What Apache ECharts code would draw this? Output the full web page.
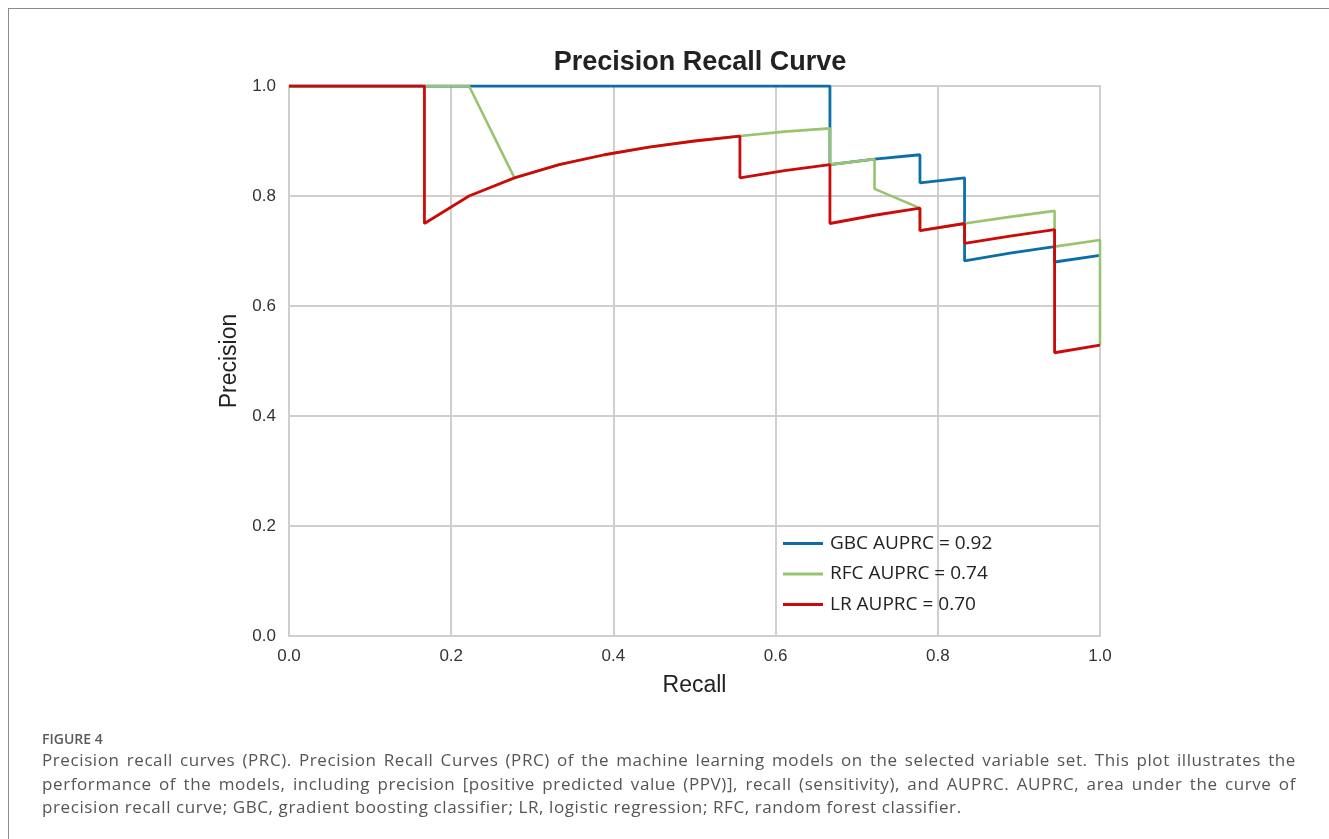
<!DOCTYPE html>
<html>
<head>
<meta charset="utf-8">
<script src="https://cdn.jsdelivr.net/npm/echarts@6/dist/echarts.min.js"></script>
<style>
    html, body { margin: 0; padding: 0; background: #fff; }
    body { width: 1329px; height: 839px; position: relative; overflow: hidden; }
    #frame {
        position: absolute; left: 8px; top: 8px; width: 1330px; height: 840px;
        border-top: 1px solid #8a8a8a; border-left: 1px solid #8a8a8a;
    }
    #chart { position: absolute; left: 0; top: 0; width: 1329px; height: 839px; }
    #caption {
        position: absolute; left: 42px; top: 729px; width: 1254px;
        font-family: 'Open Sans', sans-serif; color: #555;
    }
    #caption .fig { font-size: 14px; font-weight: 600; color: #5a5a5a; margin-bottom: 0px; }
    #caption .txt { font-size: 17px; line-height: 23.5px; letter-spacing: 0.6px; text-align: justify; }
</style>
</head>
<body>
<div id="frame"></div>
<div id="chart"></div>
<div id="caption">
    <div class="fig">FIGURE 4</div>
    <div class="txt">Precision recall curves (PRC). Precision Recall Curves (PRC) of the machine learning models on the selected variable set. This plot illustrates the performance of the models, including precision [positive predicted value (PPV)], recall (sensitivity), and AUPRC. AUPRC, area under the curve of precision recall curve; GBC, gradient boosting classifier; LR, logistic regression; RFC, random forest classifier.</div>
</div>
<script>
// values
const gbcRecall    = [0, 0.667, 0.667, 0.722, 0.778, 0.778, 0.833, 0.833, 0.889, 0.944, 0.944, 1.0];
const gbcPrecision = [1, 1, 0.857, 0.867, 0.875, 0.824, 0.833, 0.682, 0.696, 0.708, 0.680, 0.692];

const rfcRecall    = [0, 0.222, 0.278, 0.333, 0.389, 0.444, 0.5, 0.556, 0.611, 0.667, 0.667, 0.722, 0.722, 0.778, 0.778, 0.833, 0.889, 0.944, 0.944, 1.0, 1.0];
const rfcPrecision = [1, 1, 0.833, 0.857, 0.875, 0.889, 0.9, 0.909, 0.917, 0.923, 0.857, 0.867, 0.813, 0.778, 0.737, 0.75, 0.762, 0.773, 0.708, 0.72, 0.529];

const lrRecall     = [0, 0.167, 0.167, 0.222, 0.278, 0.333, 0.389, 0.444, 0.5, 0.556, 0.556, 0.611, 0.667, 0.667, 0.722, 0.778, 0.778, 0.833, 0.833, 0.889, 0.944, 0.944, 1.0];
const lrPrecision  = [1, 1, 0.75, 0.8, 0.833, 0.857, 0.875, 0.889, 0.9, 0.909, 0.833, 0.846, 0.857, 0.75, 0.765, 0.778, 0.737, 0.75, 0.714, 0.727, 0.739, 0.515, 0.529];

const seriesNames = ['GBC AUPRC = 0.92', 'RFC AUPRC = 0.74', 'LR AUPRC = 0.70'];
const seriesColors = ['#0b6ea8', '#98c36f', '#cc0a0a'];

const zip = (xs, ys) => xs.map((x, i) => [x, ys[i]]);
const curves = [zip(gbcRecall, gbcPrecision), zip(rfcRecall, rfcPrecision), zip(lrRecall, lrPrecision)];

const myChart = echarts.init(document.getElementById('chart'));

const sans = 'Liberation Sans, Arial, sans-serif';
const axisText = { color: '#333', fontFamily: sans, fontSize: 17 };

const option = {
    animation: false,
    title: {
        text: 'Precision Recall Curve',
        left: 695, top: 44, textAlign: 'center',
        textStyle: { fontFamily: sans, fontSize: 27, fontWeight: 'bold', color: '#222' }
    },
    grid: {
        left: 289, top: 86, width: 811, height: 550,
        outerBoundsMode: 'none', containLabel: false,
        show: true, borderColor: '#cfcfcf', borderWidth: 2, backgroundColor: 'transparent'
    },
    legend: {
        orient: 'vertical', left: 783, top: 534, itemGap: 11.5, padding: 0,
        itemWidth: 40, itemHeight: 3, icon: 'rect',
        textStyle: { fontFamily: 'Open Sans, sans-serif', fontSize: 19, color: '#222', padding: [0, 0, 0, 2] },
        data: seriesNames
    },
    xAxis: {
        type: 'value', min: 0, max: 1, interval: 0.2,
        name: 'Recall', nameLocation: 'middle', nameGap: 38,
        nameTextStyle: { fontFamily: sans, fontSize: 23, color: '#222' },
        axisLine: { show: false }, axisTick: { show: false },
        axisLabel: Object.assign({ margin: 12, formatter: v => v.toFixed(1) }, axisText),
        splitLine: { lineStyle: { color: '#cfcfcf', width: 2 } }
    },
    yAxis: {
        type: 'value', min: 0, max: 1, interval: 0.2,
        name: 'Precision', nameLocation: 'middle', nameGap: 44, nameRotate: 90,
        nameTextStyle: { fontFamily: sans, fontSize: 23, color: '#222' },
        axisLine: { show: false }, axisTick: { show: false },
        axisLabel: Object.assign({ margin: 13, formatter: v => v.toFixed(1) }, axisText),
        splitLine: { lineStyle: { color: '#cfcfcf', width: 2 } }
    },
    series: curves.map((data, i) => ({
        name: seriesNames[i],
        type: 'line',
        data: data,
        showSymbol: false,
        symbol: 'none',
        color: seriesColors[i],
        lineStyle: { color: seriesColors[i], width: i === 1 ? 2.6 : 2.8 },
        z: 2 + i
    }))
};
myChart.setOption(option);
</script>
</body>
</html>
